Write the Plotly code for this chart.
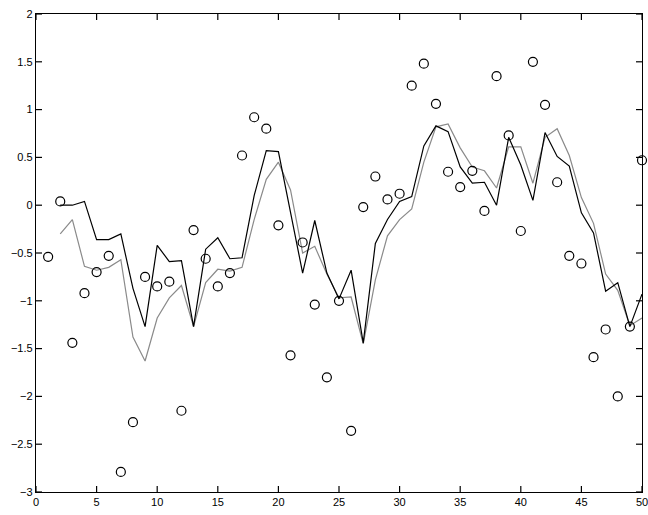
import plotly.graph_objects as go

# Observations (circles), x = 1..50
obs_x = list(range(1, 51))
obs_y = [-0.54, 0.04, -1.44, -0.92, -0.70, -0.53, -2.79, -2.27, -0.75, -0.85,
         -0.80, -2.15, -0.26, -0.56, -0.85, -0.71, 0.52, 0.92, 0.80, -0.21,
         -1.57, -0.39, -1.04, -1.80, -1.00, -2.36, -0.02, 0.30, 0.06, 0.12,
         1.25, 1.48, 1.06, 0.35, 0.19, 0.36, -0.06, 1.35, 0.73, -0.27,
         1.50, 1.05, 0.24, -0.53, -0.61, -1.59, -1.30, -2.00, -1.27, 0.47]

# Estimates, x = 2..50
est_x = list(range(2, 51))
est_black = [0.00, 0.00, 0.04, -0.36, -0.36, -0.30, -0.87, -1.27, -0.42, -0.59,
             -0.58, -1.27, -0.46, -0.34, -0.56, -0.55, 0.10, 0.57, 0.56, -0.08,
             -0.71, -0.16, -0.71, -0.98, -0.68, -1.44, -0.40, -0.15, 0.04, 0.09,
             0.62, 0.83, 0.77, 0.40, 0.23, 0.24, 0.00, 0.71, 0.42, 0.05,
             0.76, 0.51, 0.41, -0.08, -0.29, -0.90, -0.81, -1.27, -0.93]
est_gray = [-0.30, -0.15, -0.64, -0.68, -0.65, -0.57, -1.38, -1.63, -1.18, -0.97,
            -0.84, -1.27, -0.81, -0.67, -0.69, -0.65, -0.15, 0.27, 0.45, 0.16,
            -0.50, -0.43, -0.72, -0.97, -0.96, -1.45, -0.78, -0.32, -0.15, -0.04,
            0.45, 0.82, 0.85, 0.60, 0.40, 0.36, 0.18, 0.61, 0.61, 0.23,
            0.71, 0.80, 0.52, 0.08, -0.19, -0.72, -0.89, -1.26, -1.18]

x_ticks = [0, 5, 10, 15, 20, 25, 30, 35, 40, 45, 50]
y_ticks = [-3, -2.5, -2, -1.5, -1, -0.5, 0, 0.5, 1, 1.5, 2]
y_tick_text = ["\u22123", "\u22122.5", "\u22122", "\u22121.5", "\u22121", "\u22120.5",
               "0", "0.5", "1", "1.5", "2"]

fig = go.Figure()
fig.add_trace(go.Scatter(x=est_x, y=est_gray, mode="lines",
                         line=dict(color="#8a8a8a", width=1.2)))
fig.add_trace(go.Scatter(x=est_x, y=est_black, mode="lines",
                         line=dict(color="black", width=1.2)))
fig.add_trace(go.Scatter(x=obs_x, y=obs_y, mode="markers", cliponaxis=False,
                         marker=dict(symbol="circle-open", size=9, color="black",
                                     line=dict(width=1.2))))

font = dict(family="Liberation Sans, Arial, Helvetica, sans-serif", size=11, color="black")

fig.update_layout(
    template="none",
    width=648, height=515,
    margin=dict(l=36, r=6, t=14, b=23),
    showlegend=False,
    font=font,
    xaxis=dict(range=[0, 50], tickvals=x_ticks, ticks="", showline=True,
               mirror=True, linecolor="black", linewidth=1.3,
               gridcolor="rgba(0,0,0,0)", zeroline=False,
               ticklabeloverflow="allow"),
    yaxis=dict(range=[-3, 2], tickvals=y_ticks, ticktext=y_tick_text, ticks="",
               showline=True, mirror=True, linecolor="black", linewidth=1.3,
               gridcolor="rgba(0,0,0,0)", zeroline=False),
)

# Inward tick marks on all four sides of the box
tick_style = dict(type="line", line=dict(color="black", width=1.2), layer="above")
tx = 6 / 478   # tick length as a fraction of the plot height
ty = 6 / 606   # tick length as a fraction of the plot width
for v in x_ticks:
    fig.add_shape(x0=v, x1=v, y0=0, y1=tx, xref="x", yref="y domain", **tick_style)
    fig.add_shape(x0=v, x1=v, y0=1 - tx, y1=1, xref="x", yref="y domain", **tick_style)
for v in y_ticks:
    fig.add_shape(x0=0, x1=ty, y0=v, y1=v, xref="x domain", yref="y", **tick_style)
    fig.add_shape(x0=1 - ty, x1=1, y0=v, y1=v, xref="x domain", yref="y", **tick_style)

fig.write_html("out.html")
